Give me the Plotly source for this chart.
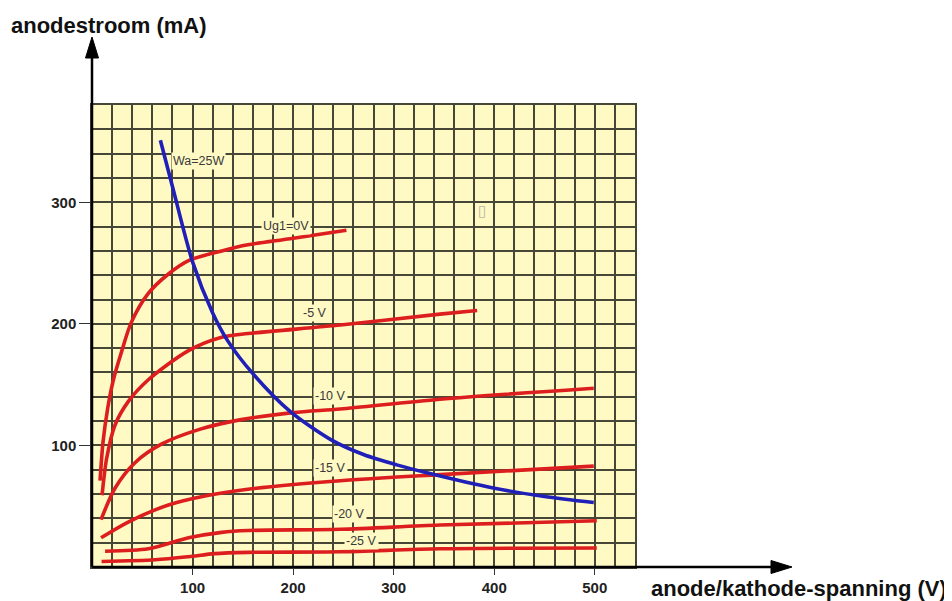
import plotly.graph_objects as go

# ---- data ----
v_0 = [8, 11, 15.5, 21, 29, 39, 56, 76, 96, 129, 155, 197, 253]
i_0 = [71, 103, 130, 153, 176, 201, 225, 241, 252, 260, 265, 270, 277]

v_5 = [10, 14.5, 23, 36, 56, 96, 129, 155, 247, 346, 383]
i_5 = [59, 89, 117, 136, 154, 178, 189, 192, 199, 208, 211]

v_10 = [9, 23, 43, 69, 106, 147, 200, 247, 346, 499]
i_10 = [39, 65, 86, 101, 113, 121, 127, 130, 138, 147]

v_15 = [9, 36, 76, 116, 155, 247, 346, 499]
i_15 = [24, 37, 51, 59, 64, 71, 76, 83]

v_20 = [13, 56, 96, 129, 155, 247, 346, 502]
i_20 = [13, 15, 24, 28.5, 30, 31, 34.5, 38]

v_25 = [9.5, 63, 96, 122, 155, 247, 346, 502]
i_25 = [4.5, 6, 8.5, 11, 12, 12.5, 15, 15.6]

v_wa = [68, 80, 100, 120, 135, 160, 197, 237, 270, 303, 333, 399, 450, 499]
i_wa = [351, 313, 251, 209, 186, 159, 128, 105, 92.5, 84, 77.5, 65, 58, 53]

curve_labels = ["Wa=25W", "Ug1=0V", "-5 V", "-10 V", "-15 V", "-20 V", "-25 V"]
label_v = [106, 193, 222, 237, 237, 256, 268]
label_i = [334, 280.5, 209, 141, 81.5, 44, 21]

x_ticks = [100, 200, 300, 400, 500]
y_ticks = [100, 200, 300]

x_title = "anode/kathode-spanning (V)"
y_title = "anodestroom (mA)"

# ---- style ----
BG = "#FFF9C4"
GRID = "#474737"
RED = "#DC1E1E"
BLUE = "#2020B8"
OFF = 8  # page offset of the figure inside the browser page

fig = go.Figure()

for vv, ii in [(v_0, i_0), (v_5, i_5), (v_10, i_10), (v_15, i_15), (v_20, i_20), (v_25, i_25)]:
    fig.add_trace(go.Scatter(x=vv, y=ii, mode="lines",
                             line=dict(color=RED, width=3.6, shape="spline", smoothing=0.8),
                             showlegend=False, hoverinfo="skip"))

fig.add_trace(go.Scatter(x=v_wa, y=i_wa, mode="lines",
                         line=dict(color=BLUE, width=3.6, shape="spline", smoothing=0.8),
                         showlegend=False, hoverinfo="skip"))

for t, xv, yv in zip(curve_labels, label_v, label_i):
    fig.add_annotation(x=xv, y=yv, xref="x", yref="y", text=t, showarrow=False,
                       font=dict(family="Liberation Sans", size=12.5, color="#3a3a3a"),
                       bgcolor=BG, borderpad=1)

# small stray glyph present in the reference
fig.add_annotation(x=388, y=293, xref="x", yref="y", text="▯", showarrow=False,
                   font=dict(family="DejaVu Sans", size=15, color="#b8b4a0"))

# plot area in page pixels: left 92, right 635, top 105, bottom 567
L, R, T, B = 92, 635, 105, 567
GW = 1.5
fig.update_layout(
    width=952, height=601,
    margin=dict(l=L - OFF, r=952 - (R - OFF), t=T - OFF, b=601 - (B - OFF), autoexpand=False),
    paper_bgcolor="white",
    plot_bgcolor=BG,
    xaxis=dict(range=[0, 540], tickvals=x_ticks, ticks="outside", ticklen=6,
               tickcolor="#333", tickwidth=1, automargin=False,
               tickfont=dict(family="Liberation Sans", size=15, color="#222", weight="bold"),
               showgrid=True, gridcolor=GRID, gridwidth=GW,
               minor=dict(dtick=20, tick0=0, showgrid=True, gridcolor=GRID, gridwidth=GW, ticks=""),
               showline=True, linecolor=GRID, linewidth=GW, mirror=True, zeroline=False),
    yaxis=dict(range=[0, 380], tickvals=y_ticks, ticks="outside", ticklen=11,
               tickcolor="#333", tickwidth=1, automargin=False,
               tickfont=dict(family="Liberation Sans", size=15, color="#222", weight="bold"),
               showgrid=True, gridcolor=GRID, gridwidth=GW,
               minor=dict(dtick=20, tick0=0, showgrid=True, gridcolor=GRID, gridwidth=GW, ticks=""),
               showline=True, linecolor=GRID, linewidth=GW, mirror=True, zeroline=False),
)

# axis arrows (paper coordinates, extending past the plot area)
W, H = R - L, B - T
y_tip = (B - 37) / H
y_base = (B - 58) / H
x_tip = (792 - L) / W
x_base = (771 - L) / W
fig.add_shape(type="line", xref="paper", yref="paper", x0=0, y0=0, x1=0, y1=y_base + 0.005,
              line=dict(color="black", width=2.5))
fig.add_shape(type="line", xref="paper", yref="paper", x0=0, y0=0, x1=x_base + 0.005, y1=0,
              line=dict(color="black", width=2.5))
hw = 6.5 / W
fig.add_shape(type="path", xref="paper", yref="paper",
              path=f"M 0,{y_tip} L {-hw},{y_base} L {hw},{y_base} Z",
              fillcolor="black", line=dict(color="black", width=1))
hh = 6.5 / H
fig.add_shape(type="path", xref="paper", yref="paper",
              path=f"M {x_tip},0 L {x_base},{-hh} L {x_base},{hh} Z",
              fillcolor="black", line=dict(color="black", width=1))

# axis titles
fig.add_annotation(xref="paper", yref="paper", x=(9 - L) / W, y=(B - 25) / H,
                   xanchor="left", yanchor="middle", text=f"<b>{y_title}</b>", showarrow=False,
                   font=dict(family="Liberation Sans", size=22, color="#111"))
fig.add_annotation(xref="paper", yref="paper", x=(949 - L) / W, y=(B - 588) / H,
                   xanchor="right", yanchor="middle", text=f"<b>{x_title}</b>", showarrow=False,
                   font=dict(family="Liberation Sans", size=22, color="#111"))

fig.write_html("out.html")
